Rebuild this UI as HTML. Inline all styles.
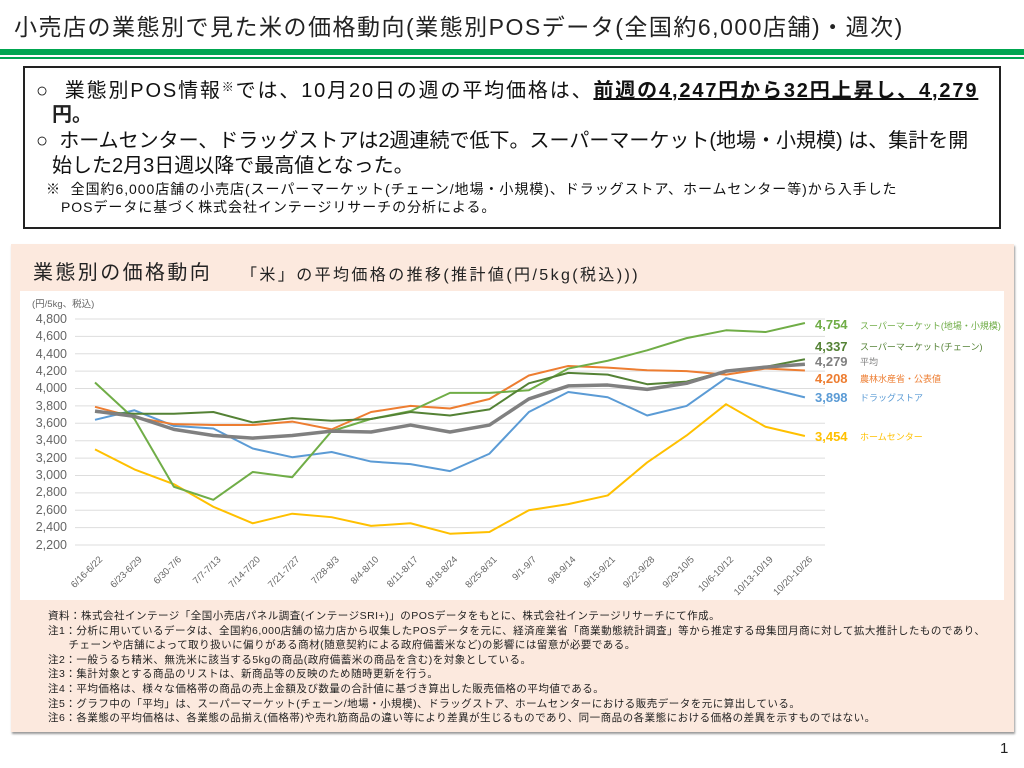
<!DOCTYPE html>
<html><head><meta charset="utf-8">
<style>
body{margin:0;width:1024px;height:768px;background:#fff;font-family:"Liberation Sans","Noto Sans CJK JP",sans-serif;position:relative;overflow:hidden;color:#222}
.a{position:absolute;white-space:nowrap}
</style></head><body>
<div class="a" style="left:14px;top:8px;font-size:23px;color:#222;letter-spacing:1.5px">小売店の業態別で見た米の価格動向(業態別POSデータ(全国約6,000店舗)・週次)</div>
<div class="a" style="left:0;top:49px;width:1024px;height:6px;background:#00a650"></div>
<div class="a" style="left:0;top:57px;width:1024px;height:2px;background:#00a650"></div>
<div class="a" style="left:23px;top:66px;width:974px;height:159px;border:2px solid #222"></div>
<div class="a" style="left:36px;top:74px;font-size:20px;color:#111;letter-spacing:1.85px">○&nbsp; 業態別POS情報<span style="font-size:12px;vertical-align:6px">※</span>では、10月20日の週の平均価格は、<b style="text-decoration:underline">前週の4,247円から32円上昇し、4,279</b></div>
<div class="a" style="left:52px;top:98px;font-size:20px;font-weight:bold">円。</div>
<div class="a" style="left:36px;top:124px;font-size:20px;color:#111;letter-spacing:0px">○&nbsp; ホームセンター、ドラッグストアは2週連続で低下。スーパーマーケット(地場・小規模) は、集計を開</div>
<div class="a" style="left:52px;top:149px;font-size:20px;color:#111;letter-spacing:0px">始した2月3日週以降で最高値となった。</div>
<div class="a" style="left:46px;top:179px;font-size:14px;color:#111;letter-spacing:0.95px">※&nbsp; 全国約6,000店舗の小売店(スーパーマーケット(チェーン/地場・小規模)、ドラッグストア、ホームセンター等)から入手した</div>
<div class="a" style="left:61px;top:197px;font-size:14px;color:#111;letter-spacing:0.95px">POSデータに基づく株式会社インテージリサーチの分析による。</div>

<div class="a" style="left:11px;top:244px;width:1003px;height:488px;background:#fce9de;box-shadow:1px 2px 2px #999"></div>
<div class="a" style="left:33px;top:256px;font-size:20px;color:#222;letter-spacing:2.4px">業態別の価格動向</div>
<div class="a" style="left:241px;top:261px;font-size:16px;color:#222;letter-spacing:2.4px">「米」の平均価格の推移(推計値(円/5kg(税込)))</div>
<div class="a" style="left:20px;top:291px;width:984px;height:309px;background:#fff"></div>
<svg class="a" style="left:0;top:0" width="1024" height="768" id="c">
<g font-size="12.5" fill="#666" text-anchor="end">
<text x="67" y="323">4,800</text><text x="67" y="340">4,600</text><text x="67" y="358">4,400</text><text x="67" y="375">4,200</text><text x="67" y="392">4,000</text><text x="67" y="410">3,800</text><text x="67" y="427">3,600</text><text x="67" y="444">3,400</text><text x="67" y="462">3,200</text><text x="67" y="479">3,000</text><text x="67" y="496">2,800</text><text x="67" y="514">2,600</text><text x="67" y="531">2,400</text><text x="67" y="549">2,200</text>
</g>
<text x="32" y="307" font-size="9.5" fill="#666">(円/5kg、税込)</text>
<g id="grid" stroke="#ddd" stroke-width="1"></g>
<g id="xl" font-size="9.5" fill="#666"></g>
<g id="ln" fill="none" stroke-linejoin="round"></g>
<g font-size="13" font-weight="bold">
<text x="815" y="329" fill="#70ad47">4,754</text><text x="860" y="329" font-size="9" font-weight="normal" fill="#70ad47">スーパーマーケット(地場・小規模)</text>
<text x="815" y="351" fill="#548235">4,337</text><text x="860" y="350" font-size="9" font-weight="normal" fill="#548235">スーパーマーケット(チェーン)</text>
<text x="815" y="366" fill="#808080">4,279</text><text x="860" y="365" font-size="9" font-weight="normal" fill="#808080">平均</text>
<text x="815" y="383" fill="#ed7d31">4,208</text><text x="860" y="382" font-size="9" font-weight="normal" fill="#ed7d31">農林水産省・公表値</text>
<text x="815" y="402" fill="#5b9bd5">3,898</text><text x="860" y="401" font-size="9" font-weight="normal" fill="#5b9bd5">ドラッグストア</text>
<text x="815" y="441" fill="#ffc000">3,454</text><text x="860" y="440" font-size="9" font-weight="normal" fill="#ffc000">ホームセンター</text>
</g>
</svg>
<div class="a" style="left:48px;top:609px;font-size:10.5px;line-height:14.6px;color:#222;letter-spacing:0.5px">資料：株式会社インテージ「全国小売店パネル調査(インテージSRI+)」のPOSデータをもとに、株式会社インテージリサーチにて作成。<br>注1：分析に用いているデータは、全国約6,000店舗の協力店から収集したPOSデータを元に、経済産業省「商業動態統計調査」等から推定する母集団月商に対して拡大推計したものであり、<br>&nbsp;&nbsp;&nbsp;&nbsp;&nbsp;&nbsp;チェーンや店舗によって取り扱いに偏りがある商材(随意契約による政府備蓄米など)の影響には留意が必要である。<br>注2：一般うるち精米、無洗米に該当する5kgの商品(政府備蓄米の商品を含む)を対象としている。<br>注3：集計対象とする商品のリストは、新商品等の反映のため随時更新を行う。<br>注4：平均価格は、様々な価格帯の商品の売上金額及び数量の合計値に基づき算出した販売価格の平均値である。<br>注5：グラフ中の「平均」は、スーパーマーケット(チェーン/地場・小規模)、ドラッグストア、ホームセンターにおける販売データを元に算出している。<br>注6：各業態の平均価格は、各業態の品揃え(価格帯)や売れ筋商品の違い等により差異が生じるものであり、同一商品の各業態における価格の差異を示すものではない。</div>
<div class="a" style="left:1000px;top:740px;font-size:15px">1</div>
<script>
var ns="http://www.w3.org/2000/svg";
function Y(v){return 319+(4800-v)/2600*226;}
function X(i){return 95+i*39.44;}
var g=document.getElementById('grid');
for(var v=2200;v<=4800;v+=200){var l=document.createElementNS(ns,'line');l.setAttribute('x1',75);l.setAttribute('x2',825);l.setAttribute('y1',Y(v));l.setAttribute('y2',Y(v));g.appendChild(l);}
var labs=["6/16-6/22","6/23-6/29","6/30-7/6","7/7-7/13","7/14-7/20","7/21-7/27","7/28-8/3","8/4-8/10","8/11-8/17","8/18-8/24","8/25-8/31","9/1-9/7","9/8-9/14","9/15-9/21","9/22-9/28","9/29-10/5","10/6-10/12","10/13-10/19","10/20-10/26"];
var xl=document.getElementById('xl');
labs.forEach(function(s,i){var t=document.createElementNS(ns,'text');t.setAttribute('text-anchor','end');t.setAttribute('transform','translate('+(X(i)+8)+',560) rotate(-45)');t.textContent=s;xl.appendChild(t);});
var S=[
["#ffc000",2,[3300,3070,2900,2640,2450,2560,2520,2420,2450,2330,2350,2600,2670,2770,3150,3460,3820,3560,3454]],
["#5b9bd5",2,[3640,3750,3570,3540,3310,3210,3270,3160,3130,3050,3250,3730,3960,3900,3690,3800,4120,4010,3898]],
["#ed7d31",2,[3790,3670,3590,3580,3580,3620,3530,3730,3800,3770,3880,4150,4260,4240,4210,4200,4160,4230,4208]],
["#70ad47",2,[4070,3650,2870,2720,3040,2980,3510,3650,3740,3950,3950,3980,4230,4320,4440,4580,4670,4650,4754]],
["#548235",2,[3730,3710,3710,3730,3610,3660,3630,3650,3730,3690,3760,4060,4180,4160,4050,4080,4200,4250,4337]],
["#808080",3.5,[3740,3680,3530,3460,3430,3460,3510,3500,3580,3500,3580,3880,4030,4040,3990,4060,4200,4247,4279]]];
var ln=document.getElementById('ln');
S.forEach(function(s){var p=document.createElementNS(ns,'polyline');p.setAttribute('stroke',s[0]);p.setAttribute('stroke-width',s[1]);p.setAttribute('points',s[2].map(function(v,i){return X(i)+','+Y(v);}).join(' '));ln.appendChild(p);});
</script>
</body></html>
